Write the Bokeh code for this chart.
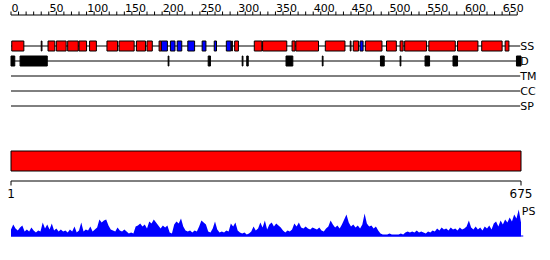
import numpy as np
from bokeh.plotting import figure
from bokeh.models import Range1d
from bokeh.embed import file_html
from bokeh.resources import INLINE
from bokeh.core.properties import value

# ---------------- data ----------------
SEQ_LEN = 675
RULER_TICKS = list(range(0, 651, 50))
RULER_LABELS = [str(t) for t in RULER_TICKS]
MINOR_TICKS = list(range(0, 671, 10))
END_TICKS = [0, SEQ_LEN]
END_LABELS = ["1", "675"]

# secondary structure (start, end) residues
HELIX = [(2, 17), (41, 41), (50, 58), (61, 73), (76, 89), (91, 100), (105, 113),
         (128, 141), (144, 163), (167, 178), (181, 187), (197, 199), (293, 293),
         (297, 301), (323, 332), (334, 365), (373, 376), (378, 407), (417, 442),
         (450, 450), (454, 460), (470, 491), (498, 510), (516, 519), (522, 550),
         (554, 588), (592, 618), (624, 650), (655, 659)]
STRAND = [(200, 207), (212, 217), (221, 226), (235, 243), (254, 258), (270, 272),
          (286, 291), (463, 466)]
DISORDER = [(1, 5), (13, 48), (209, 209), (262, 264), (307, 307), (313, 314),
            (365, 373), (413, 413), (490, 494), (516, 516), (549, 554), (586, 591),
            (670, 675)]
DOMAINS = [(1, 675)]
TRACK_LABELS = ["SS", "D", "TM", "CC", "SP"]

PS_STEP = 3
PS_VALUES = [7, 12, 8, 6, 9, 11, 5, 7, 5, 9, 6, 4, 6, 5, 14, 8, 12, 7, 13, 6,
             8, 5, 7, 5, 6, 4, 7, 5, 10, 4, 6, 14, 5, 7, 6, 10, 5, 7, 9, 17,
             14, 16, 17, 11, 7, 6, 5, 9, 6, 5, 7, 5, 3, 4, 3, 10, 11, 13, 10, 12,
             8, 15, 13, 17, 14, 11, 8, 11, 9, 11, 4, 3, 12, 15, 13, 18, 10, 6, 5, 6,
             4, 6, 5, 10, 16, 14, 12, 5, 4, 8, 15, 7, 4, 5, 4, 6, 5, 13, 10, 14,
             6, 4, 3, 4, 2, 3, 5, 10, 6, 8, 14, 9, 16, 7, 12, 14, 10, 13, 11, 9,
             6, 4, 6, 5, 7, 13, 10, 14, 9, 8, 10, 8, 7, 9, 8, 7, 9, 6, 5, 8,
             10, 16, 12, 9, 11, 8, 12, 17, 22, 14, 10, 12, 9, 11, 8, 12, 23, 13, 10, 11,
             8, 10, 6, 3, 2, 2, 2, 3, 2, 2, 2, 2, 3, 2, 4, 5, 4, 5, 4, 6,
             4, 5, 4, 3, 5, 4, 6, 5, 8, 6, 9, 7, 8, 6, 9, 7, 8, 6, 9, 7,
             8, 10, 16, 9, 7, 10, 7, 9, 6, 10, 8, 11, 7, 13, 15, 10, 16, 12, 17, 14,
             19, 15, 22, 18, 27, 14]

# ---------------- layout constants ----------------
K = 510.0 / SEQ_LEN
X0 = -10.5 / K
p = figure(width=550, height=260, x_range=Range1d(X0, X0 + 550.0 / K),
           y_range=Range1d(260, 0), output_backend="svg", toolbar_location=None,
           min_border=0)
p.axis.visible = False
p.grid.visible = False
p.outline_line_color = None
p.background_fill_color = "white"
p.border_fill_color = "white"
p.extra_y_ranges = {"ps": Range1d(-24, 236)}

FONT = value("DejaVu Sans")

# top ruler
RULER_Y = 14.5
p.segment(x0=[0], y0=[RULER_Y], x1=[SEQ_LEN - 5], y1=[RULER_Y], line_color="black", line_width=1)
p.segment(x0=MINOR_TICKS, y0=[11] * len(MINOR_TICKS), x1=MINOR_TICKS, y1=[RULER_Y] * len(MINOR_TICKS),
          line_color="black", line_width=1)
p.text(x=[t + 0.8 for t in RULER_TICKS], y=[11] * len(RULER_TICKS), text=RULER_LABELS,
       text_font=FONT, text_font_size="11px", text_align="left", text_baseline="bottom",
       text_color="black")

# tracks
TRACK_Y = [45.5, 60.5, 75.5, 90.5, 105.5]
for ty in TRACK_Y:
    p.segment(x0=[0], y0=[ty], x1=[SEQ_LEN - 1], y1=[ty], line_color="black", line_width=1)

def boxes(items, y, h, color):
    p.quad(left=[s - 1 for s, e in items], right=[e for s, e in items],
           top=[y - h / 2] * len(items), bottom=[y + h / 2] * len(items),
           fill_color=color, line_color="black", line_width=1)

boxes(HELIX, TRACK_Y[0], 10, "#ff0000")
boxes(STRAND, TRACK_Y[0], 10, "#0000ff")
boxes(DISORDER, TRACK_Y[1], 10, "black")

p.text(x=[SEQ_LEN - 1] * len(TRACK_LABELS), y=TRACK_Y, text=TRACK_LABELS,
       text_font=FONT, text_font_size="11px", text_align="left", text_baseline="middle",
       text_color="black")

# domain bar
p.quad(left=[s - 1 for s, e in DOMAINS], right=[e for s, e in DOMAINS],
       top=[150.5] * len(DOMAINS), bottom=[170.5] * len(DOMAINS),
       fill_color="#ff0000", line_color="black", line_width=1)

# bottom ruler
BR_Y = 180.5
p.segment(x0=[0], y0=[BR_Y], x1=[SEQ_LEN], y1=[BR_Y], line_color="black", line_width=1)
p.segment(x0=END_TICKS, y0=[BR_Y] * 2, x1=END_TICKS, y1=[185] * 2, line_color="black", line_width=1)
p.text(x=END_TICKS, y=[188, 188], text=END_LABELS, text_font=FONT, text_font_size="12px",
       text_align="center", text_baseline="top", text_color="black")

# PS profile
ps_x = np.arange(len(PS_VALUES)) * PS_STEP
p.varea(x=ps_x, y1=np.zeros(len(PS_VALUES)), y2=PS_VALUES, y_range_name="ps",
        fill_color="#0000ff")
p.line(x=[0, SEQ_LEN + 3], y=[0.5, 0.5], y_range_name="ps", line_color="#0000ff", line_width=1)
p.text(x=[SEQ_LEN + 1], y=[25], text=["PS"], y_range_name="ps", text_font=FONT,
       text_font_size="11px", text_align="left", text_baseline="middle", text_color="black")

open("out.html", "w").write(file_html(p, INLINE))
